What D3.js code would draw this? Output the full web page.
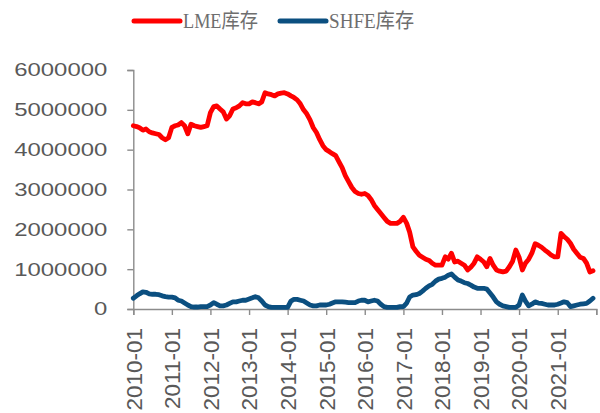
<!DOCTYPE html>
<html lang="zh">
<head>
<meta charset="UTF-8">
<style>
    body { margin: 0; background: #fff; }
    svg { display: block; }
</style>
</head>
<body>
<svg width="600" height="413"></svg>
<script src="https://d3js.org/d3.v7.min.js"></script>
<script>

// monthly stocks, tonnes, 2010-01 .. 2021-12
var lmeStock = [
  4600000, 4580000, 4550000, 4490000, 4520000, 4450000, 4420000, 4400000, 4380000, 4300000, 4250000, 4300000,
  4560000, 4600000, 4620000, 4680000, 4600000, 4400000, 4640000, 4600000, 4580000, 4560000, 4580000, 4600000,
  4930000, 5080000, 5100000, 5020000, 4950000, 4770000, 4850000, 5020000, 5050000, 5100000, 5180000, 5150000,
  5150000, 5200000, 5180000, 5150000, 5200000, 5430000, 5400000, 5380000, 5350000, 5400000, 5420000, 5430000,
  5400000, 5350000, 5310000, 5250000, 5150000, 5000000, 4900000, 4750000, 4550000, 4430000, 4250000, 4100000,
  4000000, 3950000, 3900000, 3850000, 3700000, 3550000, 3350000, 3200000, 3050000, 2950000, 2900000, 2880000,
  2900000, 2850000, 2750000, 2600000, 2500000, 2400000, 2300000, 2200000, 2150000, 2150000, 2150000, 2200000,
  2300000, 2150000, 1930000, 1560000, 1450000, 1350000, 1300000, 1250000, 1220000, 1150000, 1100000, 1100000,
  1100000, 1310000, 1250000, 1400000, 1180000, 1200000, 1150000, 1100000, 980000, 1050000, 1150000, 1310000,
  1250000, 1180000, 1060000, 1270000, 1100000, 980000, 950000, 930000, 950000, 1060000, 1200000, 1480000,
  1300000, 980000, 1150000, 1250000, 1400000, 1640000, 1600000, 1550000, 1480000, 1420000, 1350000, 1310000,
  1310000, 1900000, 1820000, 1750000, 1650000, 1500000, 1400000, 1300000, 1270000, 1150000, 930000, 960000
];

var shfeStock = [
  270000, 330000, 380000, 430000, 420000, 380000, 370000, 370000, 360000, 330000, 310000, 300000,
  300000, 280000, 220000, 200000, 150000, 100000, 60000, 50000, 50000, 60000, 60000, 60000,
  100000, 160000, 120000, 80000, 80000, 100000, 140000, 180000, 180000, 200000, 220000, 220000,
  250000, 280000, 310000, 280000, 200000, 100000, 60000, 40000, 40000, 40000, 40000, 40000,
  40000, 200000, 240000, 240000, 220000, 200000, 150000, 100000, 80000, 80000, 100000, 100000,
  100000, 120000, 150000, 180000, 180000, 180000, 170000, 160000, 160000, 160000, 200000, 220000,
  220000, 180000, 200000, 220000, 200000, 120000, 60000, 40000, 40000, 40000, 40000, 60000,
  60000, 150000, 300000, 350000, 360000, 390000, 450000, 520000, 580000, 620000, 700000, 750000,
  770000, 800000, 850000, 880000, 800000, 730000, 700000, 660000, 640000, 600000, 550000, 520000,
  520000, 520000, 500000, 400000, 300000, 180000, 120000, 80000, 60000, 40000, 40000, 40000,
  100000, 350000, 200000, 80000, 120000, 180000, 150000, 140000, 120000, 100000, 100000, 100000,
  120000, 150000, 180000, 160000, 60000, 80000, 100000, 120000, 130000, 140000, 200000, 270000
];

var seriesNames = ["LME库存", "SHFE库存"];
var seriesColors = ["#ff0000", "#0b4f80"];
var yTicks = [0, 1000000, 2000000, 3000000, 4000000, 5000000, 6000000];

var months = d3.timeMonth.range(new Date(2010, 0, 1), new Date(2022, 0, 1));

var svg = d3.select("svg");

var x = d3.scaleTime()
    .domain([new Date(2010, 0, 1), new Date(2022, 0, 1)])
    .range([133.3, 596.3]);

var y = d3.scaleLinear()
    .domain([0, 6000000])
    .range([309, 70]);

var axisColor = "#8c8c8c";
var labelColor = "#595959";

// y axis
var yAxis = svg.append("g")
    .attr("transform", "translate(133.3,0)")
    .call(d3.axisLeft(y).tickValues(yTicks).tickSize(6).tickPadding(20).tickFormat(d3.format("d")));
yAxis.select(".domain").attr("stroke", axisColor).attr("stroke-width", 1.4);
yAxis.selectAll(".tick line").attr("stroke", axisColor).attr("stroke-width", 1.4);
yAxis.selectAll(".tick text")
    .attr("fill", labelColor)
    .attr("font-family", "'Liberation Sans', Arial, sans-serif")
    .attr("font-size", 18.5)
    .each(function(d) {
        var t = d3.select(this);
        var len = String(d).length * 13.3;
        t.attr("textLength", len).attr("lengthAdjust", "spacingAndGlyphs");
    });

// x axis
var xAxis = svg.append("g")
    .attr("transform", "translate(0,309)")
    .call(d3.axisBottom(x).ticks(d3.timeYear.every(1)).tickSize(6).tickFormat(d3.timeFormat("%Y-%m")));
xAxis.select(".domain").attr("stroke", axisColor).attr("stroke-width", 1.4);
xAxis.selectAll(".tick line").attr("stroke", axisColor).attr("stroke-width", 1.4);
xAxis.selectAll(".tick text")
    .attr("fill", labelColor)
    .attr("font-family", "'Liberation Sans', Arial, sans-serif")
    .attr("font-size", 22.5)
    .attr("text-anchor", "end")
    .attr("transform", "translate(0,19) rotate(-90)")
    .attr("x", 0)
    .attr("y", 0)
    .attr("dy", "0.35em");
// last tick (2022-01) is not labelled
xAxis.selectAll(".tick").filter(function(d) { return d.getFullYear() > 2021; }).select("text").remove();

// lines
var line = d3.line()
    .x(function(d) { return x(d.date); })
    .y(function(d) { return y(d.value); });

[lmeStock, shfeStock].forEach(function(vals, i) {
    var data = months.map(function(m, k) { return {date: m, value: vals[k]}; });
    svg.append("path")
        .datum(data)
        .attr("fill", "none")
        .attr("stroke", seriesColors[i])
        .attr("stroke-width", 4.8)
        .attr("stroke-linejoin", "round")
        .attr("stroke-linecap", "round")
        .attr("d", line);
});

// legend
var legendX = [133, 279];
seriesNames.forEach(function(name, i) {
    var g = svg.append("g").attr("transform", "translate(" + legendX[i] + ",21)");
    g.append("line")
        .attr("x1", 1).attr("x2", 47)
        .attr("stroke", seriesColors[i])
        .attr("stroke-width", 5)
        .attr("stroke-linecap", "round");
    g.append("text")
        .attr("x", 50)
        .attr("y", 0)
        .attr("dy", "0.35em")
        .attr("fill", "#6e6e6e")
        .attr("font-family", "'Liberation Serif', 'Noto Sans CJK SC', serif")
        .attr("font-size", 20)
        .attr("textLength", i === 0 ? 75 : 85)
        .attr("lengthAdjust", "spacingAndGlyphs")
        .text(name);
});

</script>
</body>
</html>
